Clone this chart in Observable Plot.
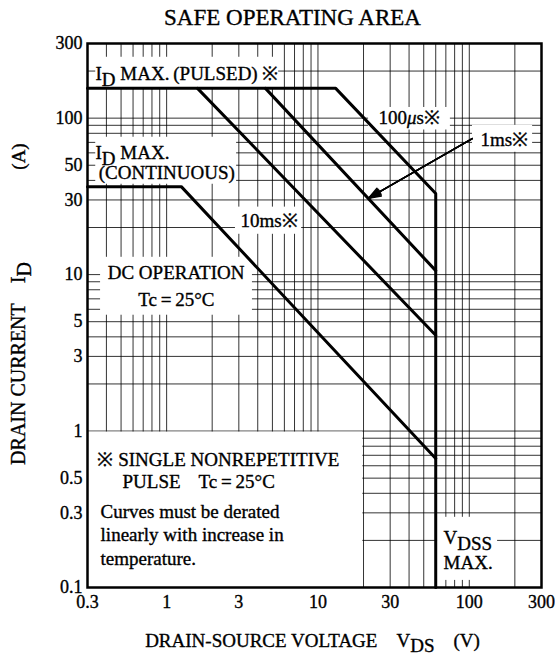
<!DOCTYPE html>
<html><head><meta charset="utf-8">
<script src="https://cdn.jsdelivr.net/npm/d3@7"></script>
<script src="https://cdn.jsdelivr.net/npm/@observablehq/plot@0.6"></script>
<style>body{margin:0;background:#fff}</style>
</head><body><div id="chart"></div>
<script>
// ---- data ----
const title = "SAFE OPERATING AREA";
const xLabel = "DRAIN-SOURCE VOLTAGE\u2003V{DS}\u2003(V)";
const yLabelMain = "DRAIN CURRENT\u2003I{D}";
const yLabelUnit = "(A)";
const xTicks = [0.3, 1, 3, 10, 30, 100, 300];
const yTicks = [0.1, 0.3, 0.5, 1, 3, 5, 10, 30, 50, 100, 300];
const xGrid = [0.4,0.5,0.6,0.7,0.8,0.9,1,2,3,4,5,6,7,8,9,10,20,30,40,50,60,70,80,90,100,200];
const yGrid = [0.2,0.3,0.4,0.5,0.6,0.7,0.8,0.9,1,2,3,4,5,6,7,8,9,10,20,30,40,50,60,70,80,90,100,200];

const pulsedMax = 155;   // I_D max (pulsed), A
const contMax = 36.5;    // I_D max (continuous), A
const vdssMax = 60;      // V_DSS max, V

const dcCurve    = [[0.3, contMax], [1.25, contMax], [vdssMax, 0.667]];
const ms10Curve  = [[1.6, pulsedMax], [vdssMax, 4.1]];
const ms1Curve   = [[4.5, pulsedMax], [vdssMax, 10.6]];
const us100Curve = [[0.3, pulsedMax], [13.1, pulsedMax], [vdssMax, 33], [vdssMax, 0.1]];

// white label backgrounds (data units)
const boxX1 = [0.34, 21.6, 105, 0.34, 2.85, 0.366, 0.3, 61.7];
const boxX2 = [5.5, 75, 262, 2.9, 7.8, 3.69, 19.8, 153.8];
const boxY1 = [155, 84, 60.5, 37.8, 18.1, 5.5, 0.1, 0.111];
const boxY2 = [245, 117, 90, 75.5, 27, 12.9, 0.985, 0.281];

// left-anchored annotation labels
const labelText = ["I{D} MAX.\u2009(PULSED) ※", "100[μ]s※", "1ms※", "I{D} MAX.", "(CONTINUOUS)", "10ms※",
  "※ SINGLE NONREPETITIVE", "PULSE", "Tc\u2009=\u200925°C", "Curves must be derated",
  "linearly with increase in", "temperature.", "V{DSS}", "MAX."];
const labelX = [0.339, 25.1, 118.7, 0.339, 0.356, 3.08, 0.349, 0.511, 1.626, 0.366, 0.366, 0.366, 67.6, 67.6];
const labelY = [191, 100, 72.3, 59.7, 44.8, 22.2, 0.65, 0.47, 0.47, 0.302, 0.2154, 0.1513, 0.206, 0.1427];

// centered annotation labels
const cLabelText = ["DC OPERATION", "Tc\u2009=\u200925°C"];
const cLabelX = [1.154, 1.16];
const cLabelY = [10.2, 6.9];

// arrow for 1ms label
const arrowFrom = [104.6, 74];
const arrowTo = [21.6, 30.8];

// ---- build ----
const curves = [
  {name: "DC", pts: dcCurve}, {name: "10ms", pts: ms10Curve},
  {name: "1ms", pts: ms1Curve}, {name: "100us", pts: us100Curve}
].flatMap(c => c.pts.map(([x, y]) => ({series: c.name, x, y})));
const boxes = boxX1.map((d, i) => ({x1: d, x2: boxX2[i], y1: boxY1[i], y2: boxY2[i]}));
const labels = labelText.map((t, i) => ({t, x: labelX[i], y: labelY[i]}));
const cLabels = cLabelText.map((t, i) => ({t, x: cLabelX[i], y: cLabelY[i]}));
const arrows = [{x1: arrowFrom[0], y1: arrowFrom[1], x2: arrowTo[0], y2: arrowTo[1]}];

const FONT = "'Liberation Serif', 'Times New Roman', serif";
const ink = {fill: "black", stroke: "black", strokeWidth: 0.35};
const chart = Plot.plot({
  width: 555, height: 655,
  marginTop: 43, marginBottom: 68, marginLeft: 87, marginRight: 14,
  style: {fontFamily: FONT, fontSize: "18px", color: "black", background: "white"},
  x: {type: "log", domain: [0.3, 300], axis: null},
  y: {type: "log", domain: [0.1, 300], axis: null},
  marks: [
    Plot.ruleX(xGrid, {x: d => d, y1: 0.1, y2: 300, stroke: "black", strokeWidth: 1, strokeOpacity: 0.8}),
    Plot.ruleY(yGrid, {y: d => d, x1: 0.3, x2: 300, stroke: "black", strokeWidth: 1, strokeOpacity: 0.8}),
    Plot.rect(boxes, {x1: "x1", x2: "x2", y1: "y1", y2: "y2", fill: "white"}),
    Plot.line(curves, {x: "x", y: "y", z: "series", stroke: "black", strokeWidth: 3, strokeLinejoin: "miter"}),
    ...[40, 30, 20, 10].map(a => Plot.arrow(arrows,
      {x1: "x1", y1: "y1", x2: "x2", y2: "y2", stroke: "black", strokeWidth: 1.5, headLength: 13, headAngle: a})),
    Plot.text(labels, {x: "x", y: "y", text: "t", textAnchor: "start", lineAnchor: "middle", fontSize: 19, ...ink}),
    Plot.text(cLabels, {x: "x", y: "y", text: "t", textAnchor: "middle", lineAnchor: "middle", fontSize: 19, ...ink}),
    Plot.frame({stroke: "black", strokeWidth: 2.5}),
    // tick labels
    Plot.text(xTicks, {x: d => d, text: d => String(d), frameAnchor: "bottom", lineAnchor: "top", textAnchor: "middle", dy: 8, fontSize: 18, ...ink}),
    Plot.text(yTicks, {y: d => d, text: d => String(d), frameAnchor: "left", lineAnchor: "middle", textAnchor: "end", dx: -5, fontSize: 18, ...ink}),
    // titles
    Plot.text([title], {frameAnchor: "top", dy: -26, dx: -22, textAnchor: "middle", lineAnchor: "middle", fontSize: 23, ...ink}),
    Plot.text([xLabel], {frameAnchor: "bottom", dy: 53, dx: -2, textAnchor: "middle", lineAnchor: "middle", fontSize: 19, ...ink}),
    Plot.text([yLabelMain], {frameAnchor: "left", dx: -69, dy: 48, rotate: -90, textAnchor: "middle", lineAnchor: "middle", fontSize: 20, ...ink}),
    Plot.text([yLabelUnit], {frameAnchor: "left", dx: -69, dy: -159, rotate: -90, textAnchor: "middle", lineAnchor: "middle", fontSize: 19, ...ink})
  ]
});

// subscript {..} and italic [..] markup -> tspans
const NS = "http://www.w3.org/2000/svg";
chart.querySelectorAll("text, tspan").forEach(el => {
  if (el.childNodes.length !== 1 || el.firstChild.nodeType !== 3) return;
  const s = el.textContent;
  if (!/[{\[]/.test(s)) return;
  el.textContent = "";
  const re = /\{([^}]*)\}|\[([^\]]*)\]|([^{\[]+)/g;
  let m, reset = false;
  while ((m = re.exec(s))) {
    const t = document.createElementNS(NS, "tspan");
    if (m[1] !== undefined) {
      t.textContent = m[1];
      t.setAttribute("dy", reset ? "0" : "0.3em");
      reset = true;
    } else {
      if (reset) { t.setAttribute("dy", "-0.3em"); reset = false; }
      t.textContent = m[2] !== undefined ? m[2] : m[3];
      if (m[2] !== undefined) t.setAttribute("font-style", "italic");
    }
    el.appendChild(t);
  }
});
document.getElementById("chart").appendChild(chart);
</script>
</body></html>
